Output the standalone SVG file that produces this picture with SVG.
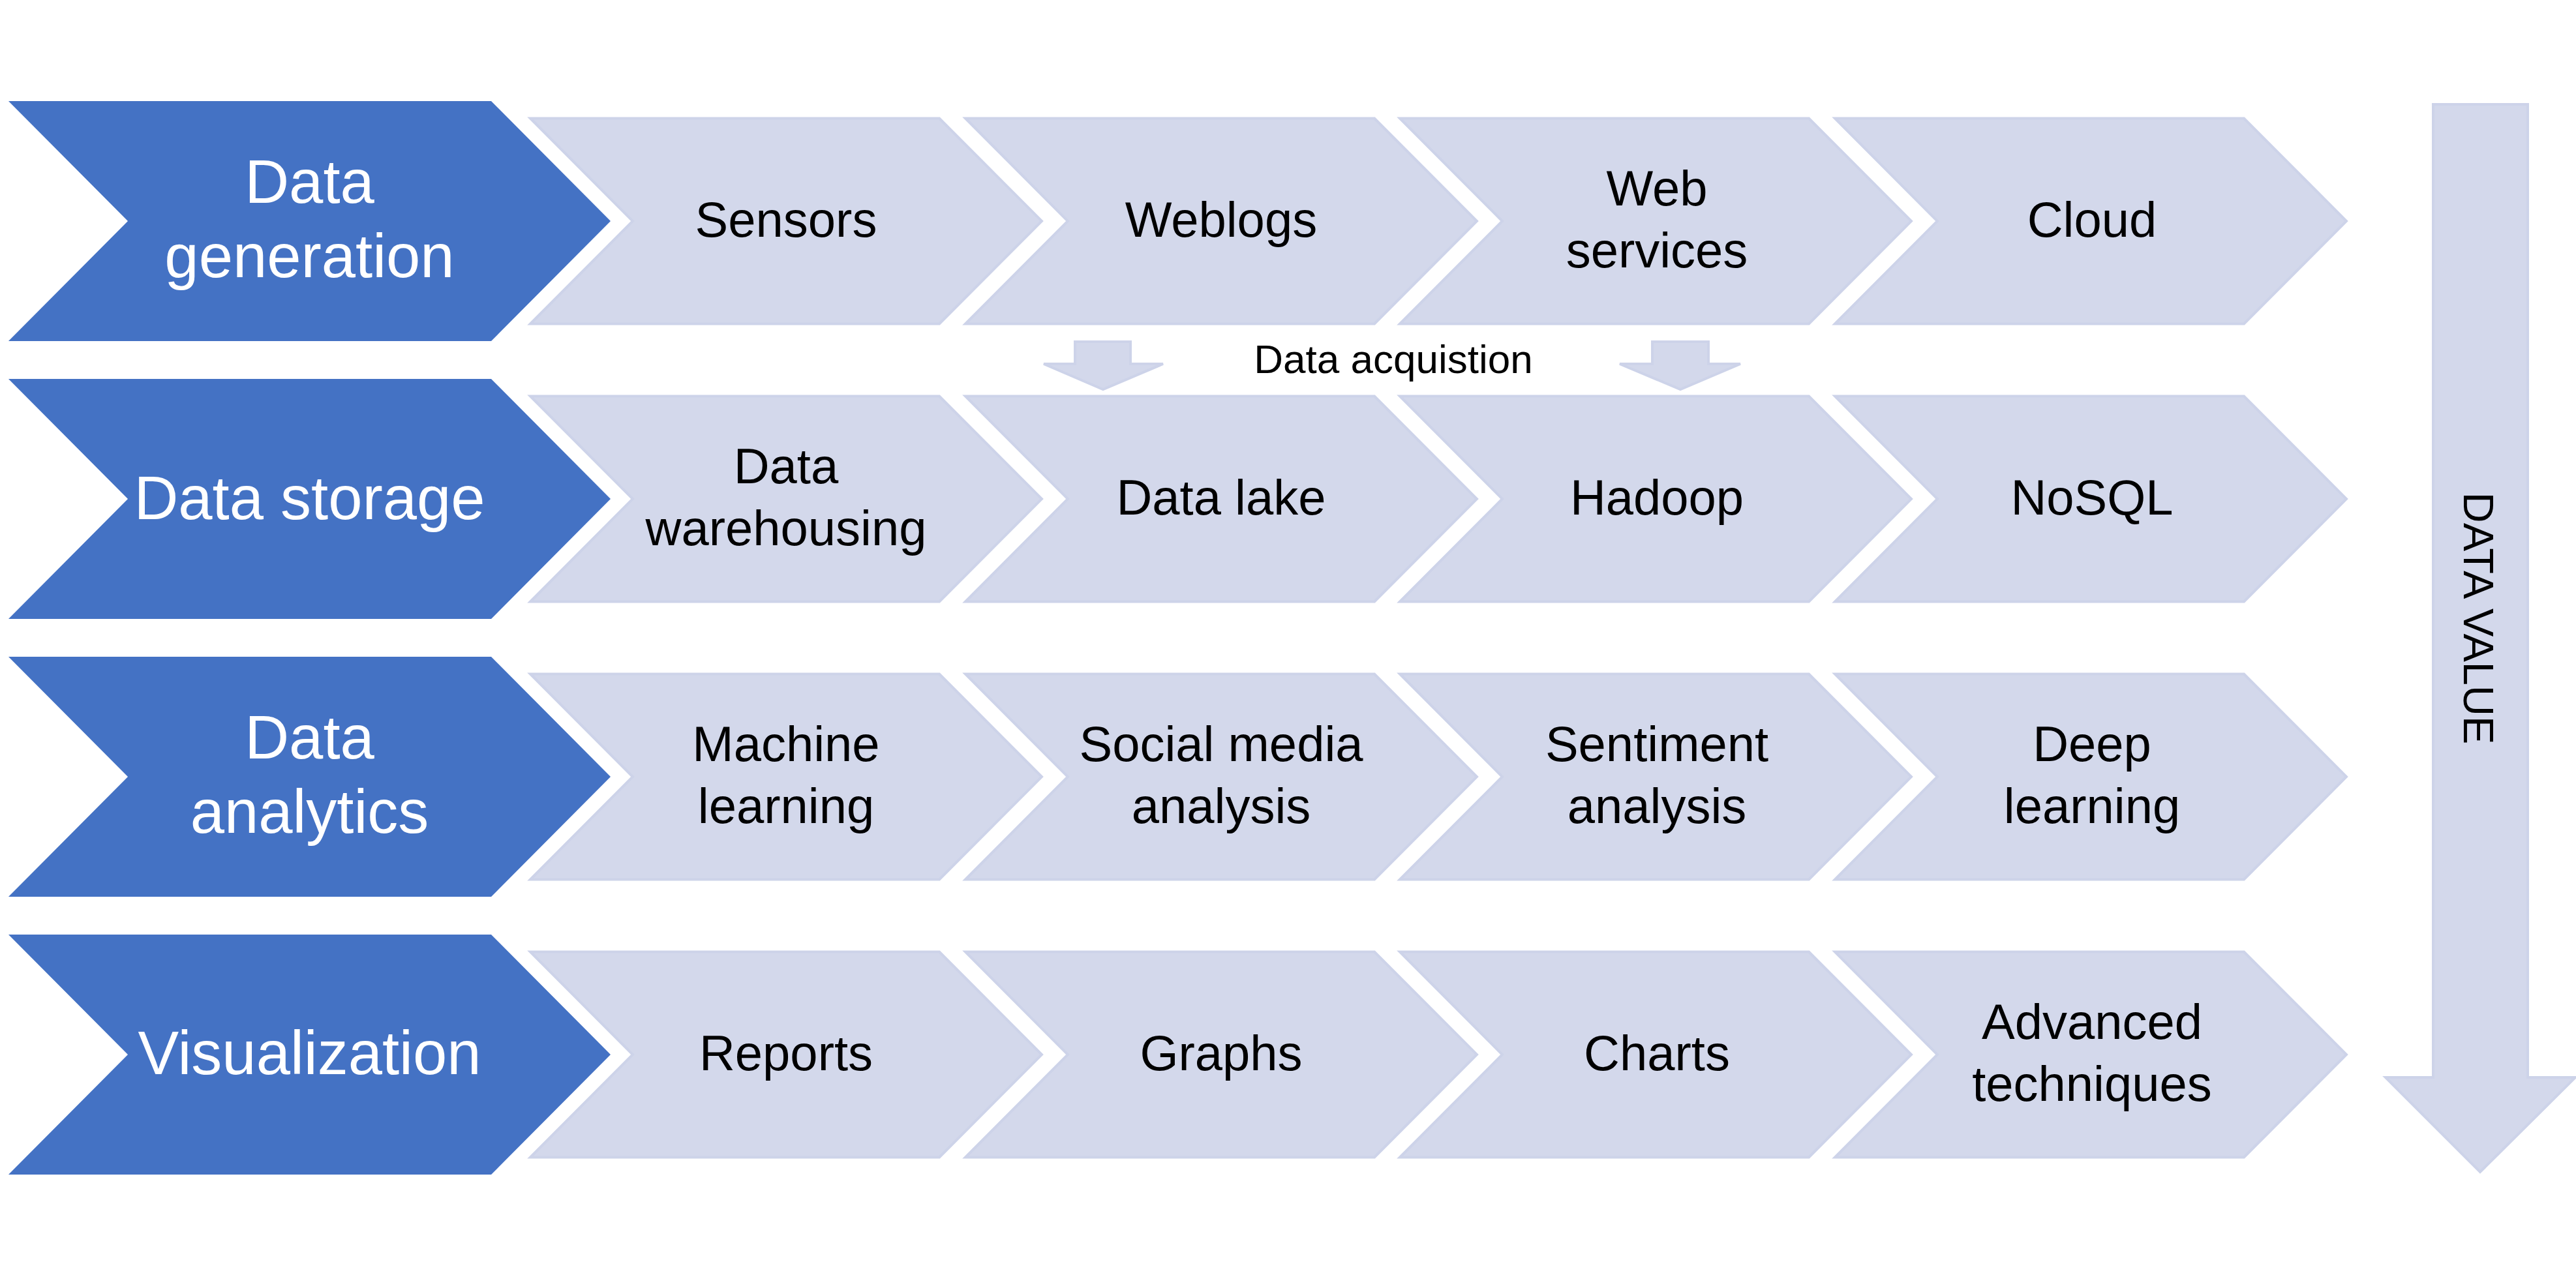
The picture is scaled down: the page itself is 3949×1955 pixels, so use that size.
<svg xmlns="http://www.w3.org/2000/svg" width="3949" height="1955" viewBox="0 0 3949 1955">
<style>
.blue{fill:#4472C4;}
.light{fill:#D3D8EB;stroke:#CDD3E9;stroke-width:4;stroke-linejoin:miter;}
.bt{font-family:"Liberation Sans",Arial,sans-serif;font-size:94px;fill:#FFFFFF;text-anchor:middle;}
.lt{font-family:"Liberation Sans",Arial,sans-serif;font-size:76px;fill:#000000;text-anchor:middle;}
.st{font-family:"Liberation Sans",Arial,sans-serif;font-size:62px;fill:#000000;text-anchor:middle;}
.vt{font-family:"Liberation Sans",Arial,sans-serif;font-size:65px;fill:#000000;text-anchor:middle;}
</style>
<rect width="3949" height="1955" fill="#FFFFFF"/>

<g id="connectors">
<polygon id="acq-left" class="light" points="1648,524 1733,524 1733,558 1783,558 1691,597 1600,558 1648,558"/>
<polygon id="acq-right" class="light" points="2533,524 2619,524 2619,558 2668,558 2576,597 2483,558 2533,558"/>
<text class="st" x="2136" y="572">Data acquistion</text>
<polygon id="value-arrow" class="light" points="3730,160 3875,160 3875,1652 3948,1652 3802,1797 3657,1652 3730,1652"/>
<text class="vt" transform="translate(3777,948) rotate(90)">DATA VALUE</text>
</g>

<!-- Row 1 -->
<g id="row1-head"><polygon class="blue" points="13,155 753,155 936,339 753,523 13,523 196,339"/>
<text class="bt" x="474.5" y="311">Data</text><text class="bt" x="474.5" y="425">generation</text></g>
<g id="r1c1"><polygon class="light" points="813,181.5 1440,181.5 1597,339 1440,496.5 813,496.5 970,339"/><text class="lt" x="1205" y="363">Sensors</text></g>
<g id="r1c2"><polygon class="light" points="1480,181.5 2107,181.5 2264,339 2107,496.5 1480,496.5 1637,339"/><text class="lt" x="1872" y="363">Weblogs</text></g>
<g id="r1c3"><polygon class="light" points="2146,181.5 2773,181.5 2930,339 2773,496.5 2146,496.5 2303,339"/><text class="lt" x="2540" y="315">Web</text><text class="lt" x="2540" y="410">services</text></g>
<g id="r1c4"><polygon class="light" points="2813,181.5 3440,181.5 3597,339 3440,496.5 2813,496.5 2970,339"/><text class="lt" x="3207" y="363">Cloud</text></g>

<!-- Row 2 -->
<g id="row2-head"><polygon class="blue" points="13,581 753,581 936,765 753,949 13,949 196,765"/>
<text class="bt" x="474.5" y="796">Data storage</text></g>
<g id="r2c1"><polygon class="light" points="813,607.5 1440,607.5 1597,765 1440,922.5 813,922.5 970,765"/><text class="lt" x="1205" y="741">Data</text><text class="lt" x="1205" y="836">warehousing</text></g>
<g id="r2c2"><polygon class="light" points="1480,607.5 2107,607.5 2264,765 2107,922.5 1480,922.5 1637,765"/><text class="lt" x="1872" y="789">Data lake</text></g>
<g id="r2c3"><polygon class="light" points="2146,607.5 2773,607.5 2930,765 2773,922.5 2146,922.5 2303,765"/><text class="lt" x="2540" y="789">Hadoop</text></g>
<g id="r2c4"><polygon class="light" points="2813,607.5 3440,607.5 3597,765 3440,922.5 2813,922.5 2970,765"/><text class="lt" x="3207" y="789">NoSQL</text></g>

<!-- Row 3 -->
<g id="row3-head"><polygon class="blue" points="13,1007 753,1007 936,1191 753,1375 13,1375 196,1191"/>
<text class="bt" x="474.5" y="1163">Data</text><text class="bt" x="474.5" y="1277">analytics</text></g>
<g id="r3c1"><polygon class="light" points="813,1033.5 1440,1033.5 1597,1191 1440,1348.5 813,1348.5 970,1191"/><text class="lt" x="1205" y="1167">Machine</text><text class="lt" x="1205" y="1262">learning</text></g>
<g id="r3c2"><polygon class="light" points="1480,1033.5 2107,1033.5 2264,1191 2107,1348.5 1480,1348.5 1637,1191"/><text class="lt" x="1872" y="1167">Social media</text><text class="lt" x="1872" y="1262">analysis</text></g>
<g id="r3c3"><polygon class="light" points="2146,1033.5 2773,1033.5 2930,1191 2773,1348.5 2146,1348.5 2303,1191"/><text class="lt" x="2540" y="1167">Sentiment</text><text class="lt" x="2540" y="1262">analysis</text></g>
<g id="r3c4"><polygon class="light" points="2813,1033.5 3440,1033.5 3597,1191 3440,1348.5 2813,1348.5 2970,1191"/><text class="lt" x="3207" y="1167">Deep</text><text class="lt" x="3207" y="1262">learning</text></g>

<!-- Row 4 -->
<g id="row4-head"><polygon class="blue" points="13,1433 753,1433 936,1617 753,1801 13,1801 196,1617"/>
<text class="bt" x="474.5" y="1647">Visualization</text></g>
<g id="r4c1"><polygon class="light" points="813,1459.5 1440,1459.5 1597,1617 1440,1774.5 813,1774.5 970,1617"/><text class="lt" x="1205" y="1641">Reports</text></g>
<g id="r4c2"><polygon class="light" points="1480,1459.5 2107,1459.5 2264,1617 2107,1774.5 1480,1774.5 1637,1617"/><text class="lt" x="1872" y="1641">Graphs</text></g>
<g id="r4c3"><polygon class="light" points="2146,1459.5 2773,1459.5 2930,1617 2773,1774.5 2146,1774.5 2303,1617"/><text class="lt" x="2540" y="1641">Charts</text></g>
<g id="r4c4"><polygon class="light" points="2813,1459.5 3440,1459.5 3597,1617 3440,1774.5 2813,1774.5 2970,1617"/><text class="lt" x="3207" y="1593">Advanced</text><text class="lt" x="3207" y="1688">techniques</text></g>
</svg>
